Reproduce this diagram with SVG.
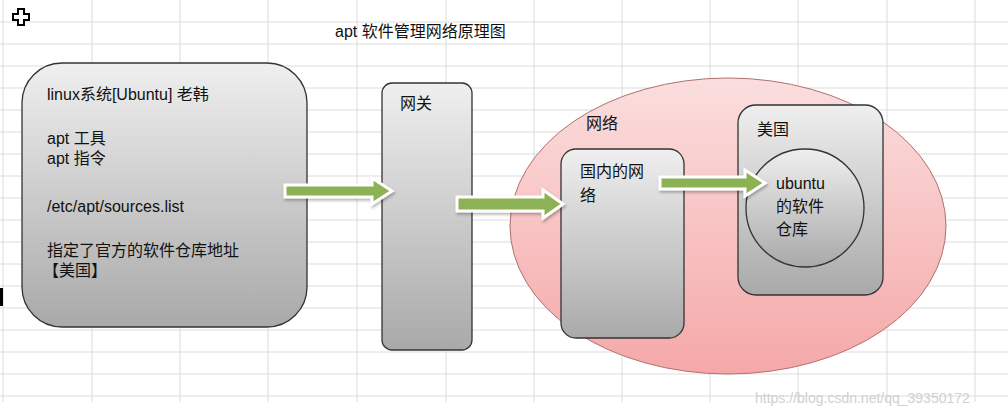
<svg xmlns="http://www.w3.org/2000/svg" width="1008" height="416" viewBox="0 0 1008 416">
<style>
.t{font-family:"Liberation Sans","Noto Sans CJK SC",sans-serif;font-size:16px;fill:#111}
.g{stroke:#dcdcdc;stroke-width:1}
.box{fill:url(#gr);stroke:#333;stroke-width:1.3}
.arr{fill:#8db255;stroke:#fff;stroke-width:3;filter:url(#sh)}
</style>
<defs>
<linearGradient id="gr" x1="0" y1="0" x2="0" y2="1"><stop offset="0" stop-color="#efefef"/><stop offset="1" stop-color="#a9a9a9"/></linearGradient>
<linearGradient id="pk" x1="0" y1="0" x2="0" y2="1"><stop offset="0" stop-color="#fbdede"/><stop offset="1" stop-color="#f5a8a8"/></linearGradient>
<filter id="sh" x="-20%" y="-50%" width="140%" height="200%"><feDropShadow dx="1" dy="2" stdDeviation="1.5" flood-color="#000" flood-opacity="0.3"/></filter>
</defs>
<rect width="1008" height="416" fill="#fff"/>
<g id="grid">
<path class="g" d="M3 0V402M92 0V402M180 0V402M268 0V402M357 0V402M446 0V402M534 0V402M622 0V402M710 0V402M798 0V402M887 0V402M975 0V402"/>
<path class="g" d="M0 22H1008M0 44H1008M0 66H1008M0 88H1008M0 110H1008M0 132H1008M0 154H1008M0 176H1008M0 198H1008M0 220H1008M0 242H1008M0 264H1008M0 286H1008M0 308H1008M0 330H1008M0 352H1008M0 374H1008M0 396H1008"/>
</g>
<path d="M18 9h6v5h5v6h-5v5h-6v-5h-5v-6h5z" fill="#fff" stroke="#000" stroke-width="2"/>
<rect x="0" y="288" width="3" height="18" fill="#000"/>
<text class="t" x="335" y="37">apt 软件管理网络原理图</text>
<g id="linux">
<rect class="box" x="22" y="63" width="285" height="264" rx="40"/>
<text class="t" x="47" y="100">linux系统[Ubuntu] 老韩</text>
<text class="t" x="47" y="144">apt  工具</text>
<text class="t" x="47" y="164">apt 指令</text>
<text class="t" x="47" y="212">/etc/apt/sources.list</text>
<text class="t" x="47" y="256">指定了官方的软件仓库地址</text>
<text class="t" x="43" y="276">【美国】</text>
</g>
<g id="gateway">
<rect class="box" x="382" y="83" width="90" height="267" rx="10"/>
<text class="t" x="400" y="109">网关</text>
</g>
<g id="network">
<ellipse cx="728" cy="226" rx="218" ry="148" fill="url(#pk)" stroke="#b07070" stroke-width="1"/>
<text class="t" x="586" y="129">网络</text>
</g>
<g id="domestic">
<rect class="box" x="561" y="149" width="123" height="189" rx="15"/>
<text class="t" x="580" y="177">国内的网</text>
<text class="t" x="580" y="201">络</text>
</g>
<g id="usa">
<rect class="box" x="738" y="105" width="145" height="190" rx="18"/>
<text class="t" x="757" y="135">美国</text>
</g>
<g id="repo">
<circle cx="805" cy="208" r="59" fill="url(#gr)" stroke="#333" stroke-width="1.3"/>
<text class="t" x="776" y="189">ubuntu</text>
<text class="t" x="776" y="212">的软件</text>
<text class="t" x="776" y="235">仓库</text>
</g>
<g id="connectors">
<path class="arr" d="M285 185H372V178L392 191L372 204V197H285Z"/>
<path class="arr" d="M457 197H543V190L563 204L543 218V211H457Z"/>
<path class="arr" d="M660 177H745V170L765 183L745 196V189H660Z"/>
</g>
<text x="755" y="403" font-family="Liberation Sans,sans-serif" font-size="14" fill="#d0d0d0">https://blog.csdn.net/qq_39350172</text>
</svg>
